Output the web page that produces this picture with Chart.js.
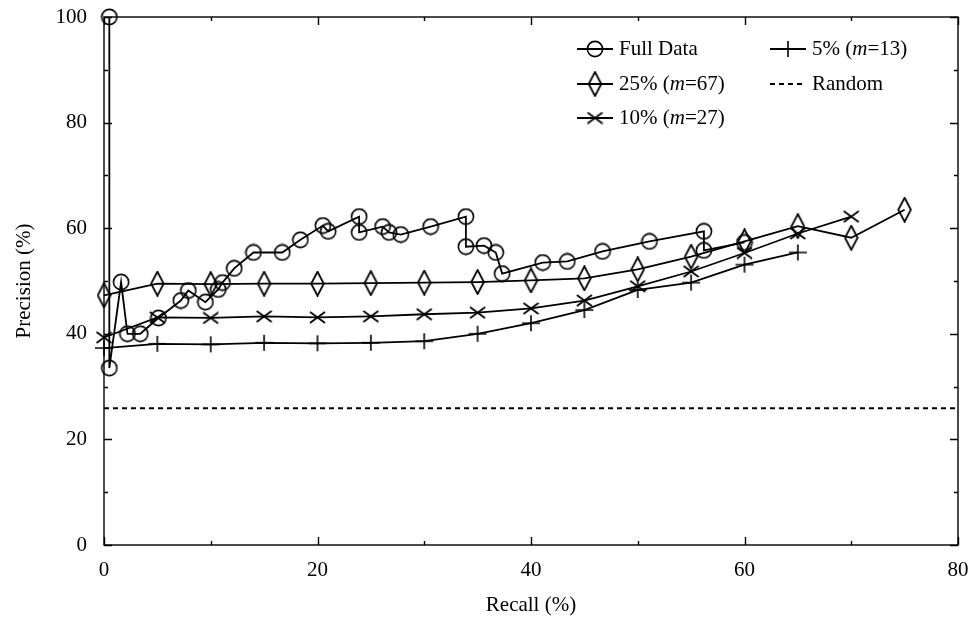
<!DOCTYPE html>
<html>
<head>
<meta charset="utf-8">
<script src="https://cdn.jsdelivr.net/npm/chart.js@4"></script>
<style>
  html, body { margin: 0; padding: 0; background: #fff; }
  #wrap { width: 974px; height: 622px; }
</style>
</head>
<body>
<div id="wrap"><canvas id="prChart" width="974" height="622"></canvas></div>
<script>
// series names (legend)
const seriesNames = ["Full Data", "25% (m=67)", "10% (m=27)", "5% (m=13)", "Random"];

// Full Data (recall, precision)
const fullRecall = [0.5, 0.5, 1.6, 2.2, 3.4, 5.1, 7.2, 7.9, 9.5, 10.7, 11.1, 12.2, 14.0, 16.7, 18.4, 20.5, 21.0, 23.9, 23.9, 26.1, 26.7, 27.8, 30.6, 33.9, 33.9, 35.6, 36.7, 37.3, 41.1, 43.4, 46.7, 51.1, 56.2, 56.2, 60.0];
const fullPrecision = [100, 33.5, 49.8, 40.0, 40.0, 43.0, 46.3, 48.2, 46.0, 48.4, 49.7, 52.4, 55.4, 55.4, 57.8, 60.5, 59.4, 62.2, 59.2, 60.3, 59.2, 58.8, 60.3, 62.2, 56.5, 56.7, 55.4, 51.4, 53.5, 53.7, 55.6, 57.5, 59.4, 55.8, 57.3];

// 25% (m=67)
const recall25 = [0, 5, 10, 15, 20, 25, 30, 35, 40, 45, 50, 55, 60, 65, 70, 75];
const precision25 = [47.3, 49.5, 49.4, 49.5, 49.5, 49.6, 49.7, 49.8, 50.1, 50.5, 52.2, 54.6, 57.5, 60.4, 58.2, 63.5];

// 10% (m=27)
const recall10 = [0, 5, 10, 15, 20, 25, 30, 35, 40, 45, 50, 55, 60, 65, 70];
const precision10 = [39.3, 43.1, 43.0, 43.3, 43.1, 43.3, 43.7, 44.0, 44.8, 46.3, 49.0, 51.8, 55.3, 59.0, 62.2];

// 5% (m=13)
const recall5 = [0, 5, 10, 15, 20, 25, 30, 35, 40, 45, 50, 55, 60, 65];
const precision5 = [37.3, 38.1, 38.0, 38.3, 38.2, 38.3, 38.6, 40.0, 42.0, 44.5, 48.3, 49.7, 53.1, 55.4];

// random baseline
const randomRecall = [0, 80];
const randomPrecision = [25.9, 25.9];

const FONT = "'Liberation Serif', 'Times New Roman', serif";
const FSIZE = 21;

function pts(xs, ys) {
  return xs.map((x, i) => ({ x: x, y: ys[i] }));
}

// marker images (gnuplot-like point types)
function marker(w, h, lw, draw) {
  const c = document.createElement("canvas");
  c.width = w;
  c.height = h;
  const g = c.getContext("2d");
  g.strokeStyle = "#000";
  g.lineWidth = lw;
  g.beginPath();
  draw(g, w, h);
  g.stroke();
  return c;
}
const circleMark = marker(18, 18, 1.6, (g, w, h) => g.arc(w / 2, h / 2, 7.6, 0, Math.PI * 2));
const diamondMark = marker(15, 26, 1.8, (g, w, h) => {
  g.moveTo(w / 2, 1); g.lineTo(w - 1.2, h / 2); g.lineTo(w / 2, h - 1); g.lineTo(1.2, h / 2); g.closePath();
});
const xMark = marker(17, 13, 1.8, (g, w, h) => {
  g.moveTo(1, 1); g.lineTo(w - 1, h - 1); g.moveTo(w - 1, 1); g.lineTo(1, h - 1);
});
const plusMark = marker(20, 18, 1.6, (g, w, h) => {
  g.moveTo(1, h / 2); g.lineTo(w - 1, h / 2); g.moveTo(w / 2, 1); g.lineTo(w / 2, h - 1);
});

function series(label, data, style) {
  return {
    label: label,
    data: data,
    borderColor: "#000",
    backgroundColor: "transparent",
    borderWidth: 1.8,
    pointStyle: style,
    pointRadius: 8,
    showLine: true,
    tension: 0,
    clip: false
  };
}

const datasets = [
  series(seriesNames[0], pts(fullRecall, fullPrecision), circleMark),
  series(seriesNames[1], pts(recall25, precision25), diamondMark),
  series(seriesNames[2], pts(recall10, precision10), xMark),
  series(seriesNames[3], pts(recall5, precision5), plusMark),
  {
    label: seriesNames[4],
    data: pts(randomRecall, randomPrecision),
    borderColor: "#000",
    borderWidth: 2,
    borderDash: [5, 4],
    pointRadius: 0,
    showLine: true,
    clip: false
  }
];
const legendMarks = [circleMark, diamondMark, xMark, plusMark, null];

// frame with inside ticks on all four sides
const framePlugin = {
  id: "frame",
  beforeDatasetsDraw(chart) {
    const { ctx, chartArea: a, scales } = chart;
    ctx.save();
    ctx.strokeStyle = "#000";
    ctx.lineWidth = 1.4;
    ctx.beginPath();
    for (let v = 0; v <= 80; v += 10) {
      const x = Math.round(scales.x.getPixelForValue(v)) + 0.5;
      const len = v % 20 === 0 ? 8 : 4;
      ctx.moveTo(x, a.bottom); ctx.lineTo(x, a.bottom - len);
      ctx.moveTo(x, a.top); ctx.lineTo(x, a.top + len);
    }
    for (let v = 0; v <= 100; v += 10) {
      const y = Math.round(scales.y.getPixelForValue(v)) + 0.5;
      const len = v % 20 === 0 ? 8 : 4;
      ctx.moveTo(a.left, y); ctx.lineTo(a.left + len, y);
      ctx.moveTo(a.right, y); ctx.lineTo(a.right - len, y);
    }
    ctx.stroke();
    ctx.strokeRect(a.left, a.top, a.right - a.left, a.bottom - a.top);
    ctx.restore();
  }
};

// two-column key with italic m
const keyPlugin = {
  id: "key",
  afterDraw(chart) {
    const ctx = chart.ctx;
    const cols = [{ x0: 577, x1: 613, tx: 619 }, { x0: 770, x1: 806, tx: 812 }];
    const rows = [49, 84, 118];
    ctx.save();
    ctx.strokeStyle = "#000";
    ctx.fillStyle = "#000";
    ctx.textBaseline = "middle";
    seriesNames.forEach((name, i) => {
      const c = cols[Math.floor(i / 3)];
      const y = rows[i % 3];
      ctx.beginPath();
      if (legendMarks[i]) {
        ctx.lineWidth = 1.8;
        ctx.setLineDash([]);
      } else {
        ctx.lineWidth = 2;
        ctx.setLineDash([5, 4]);
      }
      ctx.moveTo(c.x0, y);
      ctx.lineTo(c.x1, y);
      ctx.stroke();
      ctx.setLineDash([]);
      const m = legendMarks[i];
      if (m) ctx.drawImage(m, (c.x0 + c.x1) / 2 - m.width / 2, y - m.height / 2);
      // split text so the variable m is italic
      const parts = name.split(/(m)(?==)/);
      let x = c.tx;
      parts.forEach(p => {
        ctx.font = (p === "m" ? "italic " : "") + FSIZE + "px " + FONT;
        ctx.fillText(p, x, y);
        x += ctx.measureText(p).width;
      });
    });
    ctx.restore();
  }
};

const ctx = document.getElementById("prChart").getContext("2d");
new Chart(ctx, {
  type: "scatter",
  data: { datasets: datasets },
  plugins: [framePlugin, keyPlugin],
  options: {
    responsive: false,
    animation: false,
    events: [],
    layout: { padding: { top: 17, right: 16, left: 0, bottom: 0 } },
    plugins: {
      legend: { display: false },
      tooltip: { enabled: false }
    },
    scales: {
      x: {
        type: "linear",
        min: 0,
        max: 80,
        afterFit(s) { s.height = 77; s.paddingLeft = 0; s.paddingRight = 0; },
        grid: { display: false, drawTicks: false },
        border: { display: false },
        ticks: {
          stepSize: 10,
          padding: 13,
          maxRotation: 0,
          color: "#000",
          font: { family: FONT, size: FSIZE },
          callback: v => (v % 20 === 0 ? v : "")
        },
        title: {
          display: true,
          text: "Recall (%)",
          color: "#000",
          font: { family: FONT, size: FSIZE },
          padding: { top: 0, bottom: 4 }
        }
      },
      y: {
        type: "linear",
        min: 0,
        max: 100,
        afterFit(s) { s.width = 104; s.paddingTop = 0; s.paddingBottom = 0; },
        grid: { display: false, drawTicks: false },
        border: { display: false },
        ticks: {
          stepSize: 10,
          padding: 17,
          color: "#000",
          font: { family: FONT, size: FSIZE },
          callback: v => (v % 20 === 0 ? v : "")
        },
        title: {
          display: true,
          text: "Precision (%)",
          color: "#000",
          font: { family: FONT, size: FSIZE },
          padding: { top: 12, bottom: 0 }
        }
      }
    }
  }
});
</script>
</body>
</html>
